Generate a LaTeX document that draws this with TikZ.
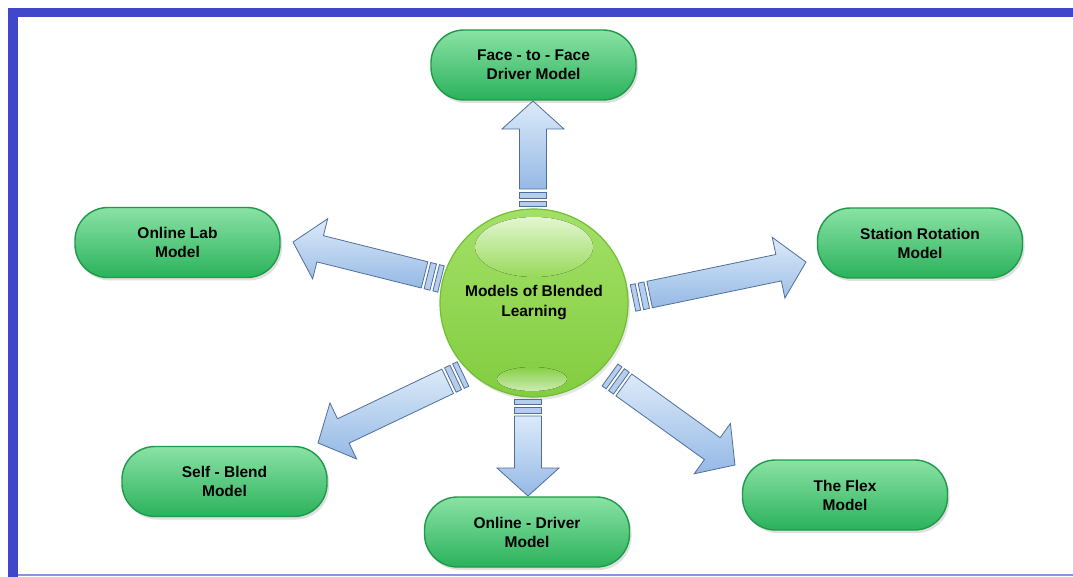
\documentclass[tikz,border=0pt]{standalone}
\usepackage{fontspec}
\setmainfont{Liberation Sans}
\usetikzlibrary{calc,shadows}
\definecolor{frameblue}{HTML}{4047C9}
\definecolor{framelight}{HTML}{8C91E3}
\definecolor{arrowedge}{HTML}{4F6F99}
\definecolor{arrowlight}{HTML}{DCEAF9}
\definecolor{arrowdark}{HTML}{95B9E5}
\definecolor{pilltop}{HTML}{8AE2A5}
\definecolor{pillmid}{HTML}{44C772}
\definecolor{pillbot}{HTML}{2AB25B}
\definecolor{pilledge}{HTML}{1F9A4B}
\definecolor{balltop}{HTML}{A3E067}
\definecolor{ballbot}{HTML}{82CD40}
\definecolor{balledge}{HTML}{72BE33}

\newcommand\blockarrow[2]{%
  \path let \p1=($(#2)-(#1)$) in \pgfextra{%
    \pgfmathsetmacro\arrang{atan2(\y1,\x1)}%
    \pgfmathsetmacro\arrlen{veclen(\x1,\y1)}%
    \pgfmathsetmacro\arrbase{\arrlen-28}%
    \global\let\Arrang\arrang\global\let\Arrlen\arrlen\global\let\Arrbase\arrbase};
  \begin{scope}[shift={(#1)},rotate=\Arrang]
    \draw[arrowstripe] (0pt,-13.5pt) rectangle (5pt,13.5pt);
    \draw[arrowstripe] (8pt,-13.5pt) rectangle (14pt,13.5pt);
    \draw[arrowbody] (17pt,-13.5pt) -- (\Arrbase pt,-13.5pt) -- (\Arrbase pt,-31pt)
      -- (\Arrlen pt,0pt) -- (\Arrbase pt,31pt) -- (\Arrbase pt,13.5pt)
      -- (17pt,13.5pt) -- cycle;
  \end{scope}}

\begin{document}
\begin{tikzpicture}[x=1pt,y=-1pt,
  arrowbody/.style={draw=arrowedge,line width=0.8pt,line join=miter,
    top color=arrowlight,bottom color=arrowdark},
  arrowstripe/.style={draw=arrowedge,line width=0.8pt,fill=arrowdark!70!white},
  pill/.style={rectangle,rounded corners=33pt,minimum width=205pt,minimum height=70pt,
    draw=pilledge,line width=1.4pt,top color=pilltop,middle color=pillmid,bottom color=pillbot,
    align=center,text=black,font=\bfseries\fontsize{15.5}{19}\selectfont,
    drop shadow={shadow xshift=2pt,shadow yshift=-3pt,opacity=0.25}},
  ball/.style={circle,minimum size=188pt,inner sep=0pt,draw=balledge,line width=1.2pt,
    top color=balltop,bottom color=ballbot,
    drop shadow={shadow xshift=2pt,shadow yshift=-3pt,opacity=0.2}},
  balltext/.style={align=center,text=black,font=\bfseries\fontsize{15.5}{20}\selectfont}
]
\useasboundingbox (0,0) rectangle (1073,577);
\fill[white] (0,0) rectangle (1073,577);
% frame
\fill[frameblue] (8,8) rectangle (1073,17);
\fill[frameblue] (8,8) rectangle (18,577);
\draw[framelight,line width=2pt] (18,575) -- (1073,575);

% arrow end points
\coordinate (s1) at (533,206);  \coordinate (e1) at (533,101);
\coordinate (s2) at (441,279);  \coordinate (e2) at (293,242);
\coordinate (s3) at (633,298);  \coordinate (e3) at (806,262);
\coordinate (s4) at (463,374);  \coordinate (e4) at (318,443);
\coordinate (s5) at (528,399);  \coordinate (e5) at (528,496);
\coordinate (s6) at (610,375);  \coordinate (e6) at (735,465);

\blockarrow{s1}{e1}
\blockarrow{s2}{e2}
\blockarrow{s3}{e3}
\blockarrow{s4}{e4}
\blockarrow{s5}{e5}
\blockarrow{s6}{e6}

% center
\node[ball] (c) at (534,303) {};
\fill[top color=white!70!balltop,bottom color=balltop!66!ballbot]
  (534,247) ellipse [x radius=59pt,y radius=30pt];
\fill[top color=ballbot!88!balltop,bottom color=white!60!ballbot]
  (532,379) ellipse [x radius=35pt,y radius=12pt];
\node[balltext] (ct) at (c.center) {Models of Blended\\Learning};

% outer nodes
\node[pill] (ftf) at (533.5,65) {Face - to - Face\\Driver Model};
\node[pill] (lab) at (177.5,242.5) {Online Lab\\Model};
\node[pill] (rot) at (920,243) {Station Rotation\\Model};
\node[pill] (self) at (224.5,481.5) {Self - Blend\\Model};
\node[pill] (drv) at (527,532) {Online - Driver\\Model};
\node[pill] (flex) at (845,495) {The Flex\\Model};
\end{tikzpicture}
\end{document}
